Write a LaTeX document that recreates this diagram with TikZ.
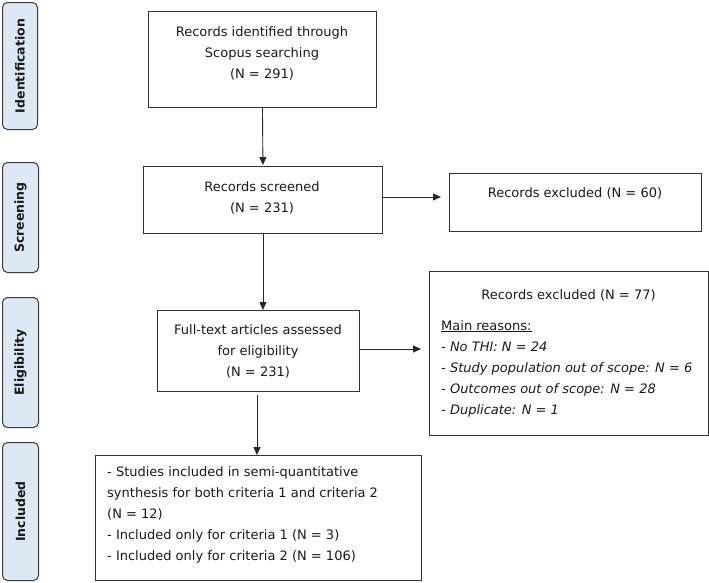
\documentclass[tikz,border=0pt]{standalone}
\usepackage{fontspec}
\setmainfont{DejaVu Sans}
\usetikzlibrary{arrows.meta}
\definecolor{tabfill}{HTML}{DCE9F5}
\definecolor{tabdraw}{HTML}{3A3A3A}
\definecolor{boxdraw}{HTML}{333333}
\begin{document}
\begin{tikzpicture}[x=1pt,y=-1pt,
  every node/.style={font=\fontsize{13}{21}\selectfont, text=black!90},
  tab/.style={draw=tabdraw, line width=1pt, fill=tabfill, rounded corners=5pt, anchor=north west, inner sep=0pt},
  tablabel/.style={font=\fontsize{12.5}{14}\selectfont\bfseries, rotate=90},
  box/.style={draw=boxdraw, line width=0.9pt, anchor=north west, inner sep=0pt},
  txt/.style={align=center, inner sep=0pt},
  ltxt/.style={align=left, inner sep=0pt, anchor=north west},
  arr/.style={draw=black!85, line width=0.9pt, -{Triangle[length=8pt,width=7pt]}}
]
\useasboundingbox (0,0) rectangle (709,582);
% phase tabs
\node[tab, minimum width=35pt, minimum height=127pt] (t1) at (2,2) {};
\node[tablabel] at (t1.center) {Identification};
\node[tab, minimum width=36pt, minimum height=110pt] (t2) at (2,162) {};
\node[tablabel] at (t2.center) {Screening};
\node[tab, minimum width=36pt, minimum height=130pt] (t3) at (2,297) {};
\node[tablabel] at (t3.center) {Eligibility};
\node[tab, minimum width=36pt, minimum height=138pt] (t4) at (2,442) {};
\node[tablabel] at (t4.center) {Included};
% boxes
\node[box, minimum width=228pt, minimum height=96pt] (b1) at (148,11) {};
\node[txt] at (262,53) {Records identified through\\Scopus searching\\(N = 291)};
\node[box, minimum width=239pt, minimum height=67pt] (b2) at (143,166) {};
\node[txt] at (262,198) {Records screened\\(N = 231)};
\node[box, minimum width=252pt, minimum height=58pt] (b5) at (449,173) {};
\node[txt] at (575,193) {Records excluded (N = 60)};
\node[box, minimum width=202pt, minimum height=81pt] (b3) at (157,310) {};
\node[txt] at (258,351) {Full-text articles assessed\\for eligibility\\(N = 231)};
\node[box, minimum width=279pt, minimum height=164pt] (b6) at (429,271) {};
\node[txt] at (568.5,295) {Records excluded (N = 77)};
\node[ltxt] at (441,320) {\underline{Main reasons:}\\\itshape - No THI: N = 24\\\itshape - Study population out of scope: N = 6\\\itshape - Outcomes out of scope: N = 28\\\itshape - Duplicate: N = 1};
\node[box, minimum width=326pt, minimum height=125pt] (b4) at (95,455) {};
\node[ltxt] at (107,466) {- Studies included in semi-quantitative\\synthesis for both criteria 1 and criteria 2\\(N = 12)\\- Included only for criteria 1 (N = 3)\\- Included only for criteria 2 (N = 106)};
% connectors
\draw[arr] (b1.south) -- ([yshift=1pt]b2.north);
\draw[arr] (b2.south) -- (b3.north -| b2.south);
\draw[arr] (b2.east |- 0,197) -- ([xshift=-8pt]b5.west |- 0,197);
\draw[arr] (b3.east |- 0,349) -- ([xshift=-8pt]b6.west |- 0,349);
\coordinate (c3) at (257,395);
\draw[arr] (c3) -- (c3 |- b4.north);
\end{tikzpicture}
\end{document}
